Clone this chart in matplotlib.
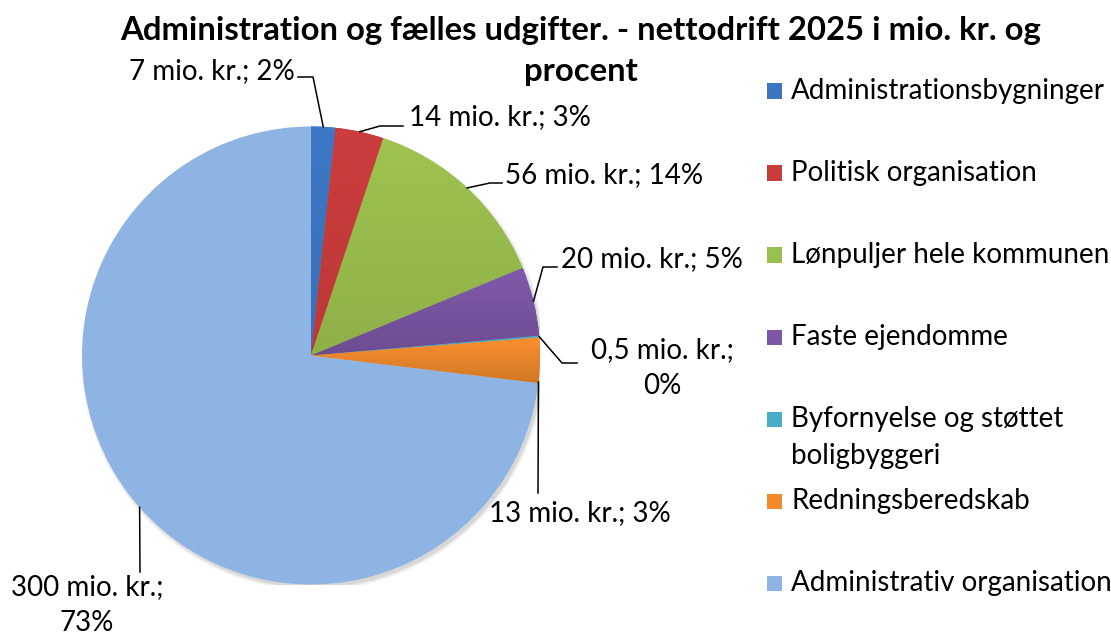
import matplotlib
matplotlib.use("Agg")
import matplotlib.pyplot as plt
import numpy as np
from matplotlib.patches import Rectangle, Circle

# ---- data ----
categories = ["Administrationsbygninger", "Politisk organisation", "Lønpuljer hele kommunen",
              "Faste ejendomme", "Byfornyelse og støttet\nboligbyggeri", "Redningsberedskab",
              "Administrativ organisation"]
values = [7, 14, 56, 20, 0.5, 13, 300]
value_texts = ["7", "14", "56", "20", "0,5", "13", "300"]
colors = ["#3C76C3", "#C83C3B", "#9BBF4E", "#7B57A5", "#4BACC6", "#F28A2C", "#8EB4E3"]
title = "Administration og fælles udgifter. - nettodrift 2025 i mio. kr. og\nprocent"

FONT = "Lato"
FS = 20
W, H = 1111, 637
fig = plt.figure(figsize=(W / 100, H / 100), dpi=100)
CX, CY, R = 311, 355.5, 229
ax = fig.add_axes([(CX - R) / W, (H - CY - R) / H, 2 * R / W, 2 * R / H])


def d(px, py):
    return ((px - CX) / R, (CY - py) / R)


def f(px, py):
    return (px / W, 1 - py / H)


# soft shadow
for k, a in [(1.012, 0.04), (1.006, 0.05), (1.0, 0.07)]:
    ax.add_patch(Circle((0.01, -0.014), k, color="black", alpha=a, lw=0, zorder=0))

wedges, _ = ax.pie(values, colors=colors, startangle=90, counterclock=False, radius=1,
                   wedgeprops=dict(linewidth=0, zorder=2))
ax.set_xlim(-1, 1)
ax.set_ylim(-1, 1)
ax.axis("off")

# gradient shading per wedge (lighter top, darker bottom)
shade = [0.06, 0.06, 0.08, 0.12, 0.08, 0.14, 0.0]
for w, c, s in zip(wedges, colors, shade):
    if s == 0:
        continue
    rgb = np.array(matplotlib.colors.to_rgb(c))
    top = np.clip(rgb * (1 + s * 0.3), 0, 1)
    bot = rgb * (1 - s)
    bb = w.get_path().get_extents(w.get_patch_transform())
    n = 256
    t = np.linspace(0, 1, n)[:, None]
    img = (top[None, :] * (1 - t) + bot[None, :] * t)[:, None, :]
    im = ax.imshow(img, extent=(bb.x0, bb.x1, bb.y0, bb.y1), aspect="auto", zorder=3,
                   origin="upper")
    im.set_clip_path(w)
ax.set_xlim(-1, 1)
ax.set_ylim(-1, 1)

total = sum(values)
cum = np.concatenate([[0], np.cumsum(values)])
ang_start = 90 - cum[:-1] / total * 360
ang_end = 90 - cum[1:] / total * 360

wrap = [False, False, False, False, True, False, True]
label_pos = [(212, 71), (500, 117), (604, 175), (652, 259), (662, 368), (580, 513), (87, 605)]
attach_frac = [0.5, 0.5, 0.5, 0.5, 0.5, 0.98, 0.5]
elbows = [
    [(313, 77), (298, 77)],
    [(380, 126), (403, 126)],
    [(490, 183), (502, 183)],
    [(543, 267), (557, 267)],
    [(562, 363), (577, 363)],
    [(538, 493)],
    [(140, 572)],
]

for i, v in enumerate(values):
    pct = round(v / total * 100)
    sep = "\n" if wrap[i] else " "
    txt = f"{value_texts[i]} mio. kr.;{sep}{pct}%"
    a = np.deg2rad(ang_start[i] + attach_frac[i] * (ang_end[i] - ang_start[i]))
    pts = [(np.cos(a), np.sin(a))] + [d(*p) for p in elbows[i]]
    xs, ys = zip(*pts)
    ax.plot(xs, ys, color="black", lw=1.1, clip_on=False, zorder=5)
    fig.text(*f(*label_pos[i]), txt, ha="center", va="center", fontsize=FS,
             family=FONT, linespacing=1.45)

fig.text(*f(581, 51), title, ha="center", va="center", fontsize=23.7, family=FONT,
         fontweight="bold", linespacing=1.5)

# legend (manual)
for i, (cat, c) in enumerate(zip(categories, colors)):
    yc = 91 + 82 * i
    fig.add_artist(Rectangle(f(767, yc + 7.5), 15 / W, 15 / H, transform=fig.transFigure,
                             color=c, lw=0))
    lines = cat.split("\n")
    for j, ln in enumerate(lines):
        fig.text(*f(791, yc + 37 * j), ln, ha="left", va="center", fontsize=FS, family=FONT)

fig.savefig("out.png", dpi=100, facecolor="white")
